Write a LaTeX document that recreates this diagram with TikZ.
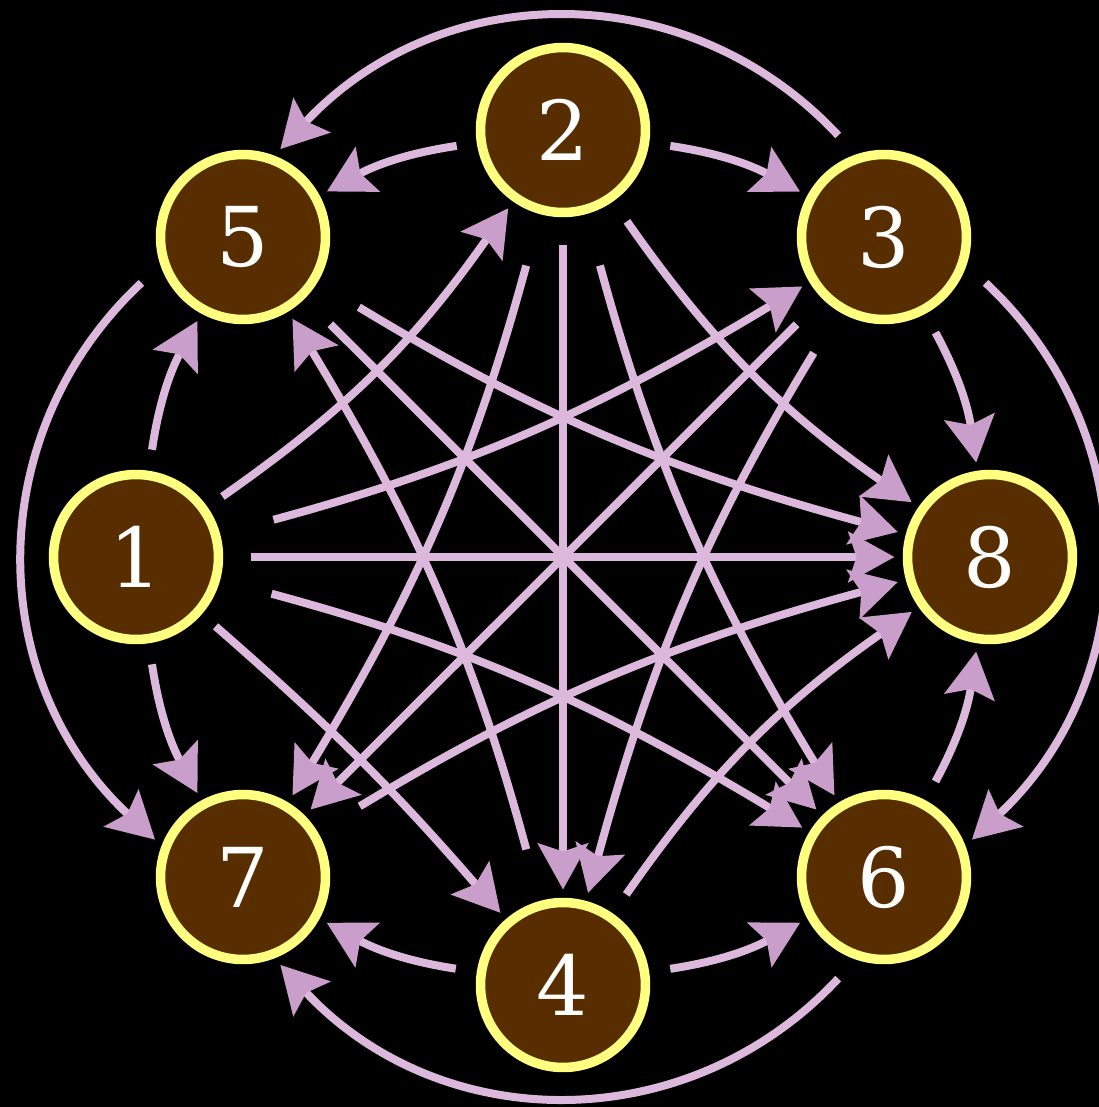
\documentclass[tikz,border=0pt]{standalone}
\usepackage{fontspec}
\setmainfont{DejaVu Serif}
\usetikzlibrary{arrows.meta}
\definecolor{tourInk}{HTML}{582D00}
\definecolor{tourRing}{HTML}{FFFF80}
\definecolor{tourEdge}{HTML}{DCB9DC}
\definecolor{tourTip}{HTML}{CA9ECA}
\tikzset{
  tour diagram/.style={
    x=0.02cm, y=-0.02cm,
    >={Stealth[length=0.92cm,width=1cm,inset=0.16cm,color=tourTip]}
  },
  tour node/.style={circle, draw=tourRing, fill=tourInk,
    line width=0.19cm, minimum size=3.3cm, inner sep=0pt,
    outer sep=0.26cm, text=white, font=\fontsize{47}{50}\selectfont},
  tour edge/.style={->, draw=tourEdge, line width=0.16cm,
    shorten <=0.26cm}
}

\begin{document}
\begin{tikzpicture}[tour diagram]
  \useasboundingbox (0,0) rectangle (1099,1107);
  \fill[black] (0,0) rectangle (1099,1107);
  \foreach \tourV/\tourX/\tourY in {1/136/557,5/243/237,2/563/130,
    3/884/237,8/990/557,6/884/877,4/563/985,7/243/877} {
    \node[tour node] (v\tourV) at (\tourX,\tourY) {\tourV};
  }
  % chords through the middle
  \foreach \tourA/\tourB/\tourGap in {1/8/0.4cm,2/4/0.4cm,5/6/0.56cm,3/7/0.56cm}
    \draw[tour edge, shorten <=\tourGap] (v\tourA) -- (v\tourB);
  \foreach \tourA/\tourB/\tourBend/\tourGap in {1/5/10/0.26cm,2/3/10/0.26cm,
    3/8/10/0.26cm,4/7/10/0.26cm,1/4/4/0.2cm,1/6/8/0.9cm,2/7/8/0.9cm,
    4/8/10/0.3cm,7/8/8/0.82cm}
    \draw[tour edge, shorten <=\tourGap] (v\tourA) to[bend left=\tourBend] (v\tourB);
  \foreach \tourA/\tourB/\tourBend/\tourGap in {2/5/10/0.24cm,6/8/10/0.26cm,
    4/6/10/0.26cm,1/7/10/0.26cm,1/2/10/0.2cm,2/8/10/0.32cm,1/3/8/0.94cm,
    2/6/8/0.9cm,3/4/8/0.8cm,5/8/8/0.8cm,4/5/8/0.9cm}
    \draw[tour edge, shorten <=\tourGap] (v\tourA) to[bend right=\tourBend] (v\tourB);
  % outer arcs
  \draw[tour edge, shorten <=0.34cm] (v3.111.5) to[out=133,in=47,looseness=1.06] (v5.67);
  \draw[tour edge, shorten <=0.34cm] (v5.201.5) to[out=223,in=137,looseness=1.06] (v7.157);
  \draw[tour edge, shorten <=0.34cm] (v6.-111.5) to[out=-133,in=-47,looseness=1.06] (v7.-67);
  \draw[tour edge, shorten <=0.34cm] (v3.-21.5) to[out=-43,in=43,looseness=1.06] (v6.23);
\end{tikzpicture}
\end{document}
